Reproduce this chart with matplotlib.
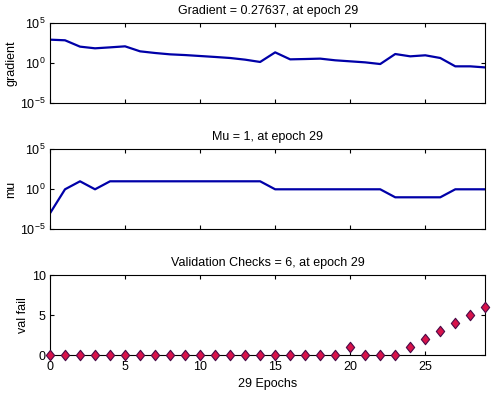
import matplotlib
matplotlib.use("Agg")
import matplotlib.pyplot as plt
from matplotlib.path import Path
import numpy as np

plt.rcParams['font.family'] = ['Liberation Sans', 'DejaVu Sans']
plt.rcParams['mathtext.fontset'] = 'custom'
plt.rcParams['mathtext.rm'] = 'Liberation Sans'
plt.rcParams['mathtext.it'] = 'Liberation Sans'

epochs = list(range(0, 30))
gradient_log10 = [2.94, 2.86, 2.06, 1.85, 1.97, 2.10, 1.47, 1.26, 1.09, 1.00,
                  0.88, 0.76, 0.63, 0.42, 0.13, 1.34, 0.46, 0.50, 0.55, 0.34,
                  0.21, 0.08, -0.13, 1.13, 0.84, 0.97, 0.63, -0.42, -0.42, -0.5585]
gradient = [10 ** v for v in gradient_log10]
mu = [1e-3, 1, 10, 1, 10, 10, 10, 10, 10, 10,
      10, 10, 10, 10, 10, 1, 1, 1, 1, 1,
      1, 1, 1, 0.1, 0.1, 0.1, 0.1, 1, 1, 1]
val_fail = [0] * 20 + [1, 0, 0, 0, 1, 2, 3, 4, 5, 6]

titles = ["Gradient = 0.27637, at epoch 29",
          "Mu = 1, at epoch 29",
          "Validation Checks = 6, at epoch 29"]
ylabels = ["gradient", "mu", "val fail"]
xticks = [0, 5, 10, 15, 20, 25]

W, H = 495, 393
fig = plt.figure(figsize=(W / 100, H / 100), dpi=100)

def ax_rect(left, top, right, bottom):
    return [left / W, 1 - bottom / H, (right - left) / W, (bottom - top) / H]

ax1 = fig.add_axes(ax_rect(50, 23.3, 485.3, 102.7))
ax2 = fig.add_axes(ax_rect(50, 149.3, 485.3, 229.3))
ax3 = fig.add_axes(ax_rect(50, 275, 485.3, 355))

line_color = '#0000a8'
fs = 9

for ax in (ax1, ax2):
    ax.set_yscale('log')
    ax.set_ylim(1e-5, 1e5)
    ax.set_yticks([1e-5, 1e0, 1e5])
    ax.set_yticklabels([r'$10^{-5}$', r'$10^{0}$', r'$10^{5}$'])
    ax.minorticks_off()

ax1.plot(epochs, gradient, color=line_color, lw=1.6)
ax2.plot(epochs, mu, color=line_color, lw=1.6)

diamond = Path([(0, 1), (0.8, 0), (0, -1), (-0.8, 0), (0, 1)],
               [Path.MOVETO, Path.LINETO, Path.LINETO, Path.LINETO, Path.CLOSEPOLY])
ax3.plot(epochs, val_fail, linestyle='none', marker=diamond, markersize=7.5,
         markerfacecolor='#d8124a', markeredgecolor='#4a0a48', markeredgewidth=0.8,
         clip_on=False, zorder=3)
ax3.set_ylim(0, 10)
ax3.set_yticks([0, 5, 10])
ax3.set_xlabel("29 Epochs", fontsize=fs, labelpad=4)

for ax, t, yl in zip((ax1, ax2, ax3), titles, ylabels):
    ax.set_xlim(0, 29)
    ax.set_xticks(xticks)
    ax.set_title(t, fontsize=fs, pad=6.5)
    ax.set_ylabel(yl, fontsize=fs, labelpad=2)
    ax.tick_params(direction='in', length=3, width=0.8, top=True, right=True,
                   labelsize=fs, pad=3)
    ax.tick_params(axis='x', pad=4)
    for s in ax.spines.values():
        s.set_linewidth(0.8)
ax1.set_xticklabels([])
ax2.set_xticklabels([])

fig.savefig("out.png", dpi=100)
